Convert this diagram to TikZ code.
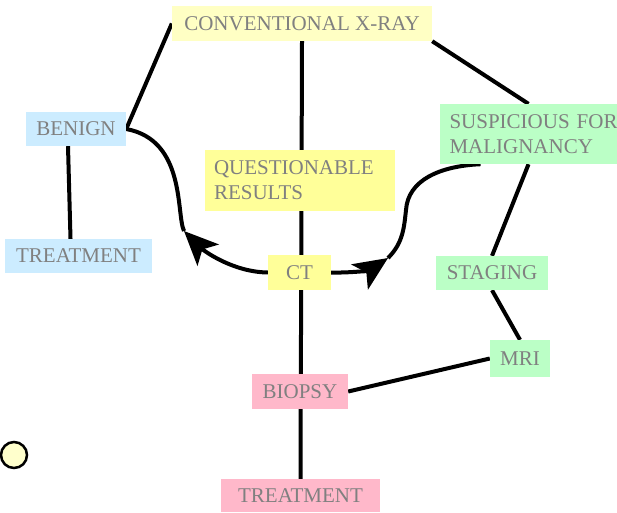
\documentclass[tikz,border=0pt]{standalone}
\usepackage{fontspec}
\setmainfont{Liberation Serif}
\usetikzlibrary{positioning,arrows.meta,backgrounds}
\definecolor{xraypale}{HTML}{FFFFC4}
\definecolor{ctyellow}{HTML}{FFFF99}
\definecolor{benblue}{HTML}{CCECFF}
\definecolor{malgreen}{HTML}{BBFFC6}
\definecolor{biopink}{HTML}{FFB8CA}
\definecolor{txtgray}{HTML}{808080}
\definecolor{dotpale}{HTML}{FFFFCC}
\begin{document}
\begin{tikzpicture}[x=1pt, y=-1pt,
  box/.style={rectangle, inner sep=0pt, text=txtgray, font=\fontsize{21}{25}\selectfont},
  link/.style={line width=4pt, black},
  headtip/.style={-{Stealth[length=34pt, width=30pt, inset=8pt]}}]
\useasboundingbox (0,0) rectangle (617,512);
\node[box, fill=xraypale, minimum width=260pt, minimum height=35pt] (xray) at (302,23.5) {CONVENTIONAL X-RAY};
\node[box, fill=benblue, minimum width=100pt, minimum height=34pt] (benign) at (76,129) {BENIGN};
\node[box, fill=benblue, minimum width=147pt, minimum height=34pt] (treatL) at (78.5,256) {TREATMENT};
\node[box, fill=malgreen, minimum width=177pt, minimum height=60pt, text width=158pt, align=left] (susp) at (528.5,134) {\mbox{SUSPICIOUS FOR}\\MALIGNANCY};
\node[box, fill=ctyellow, minimum width=190pt, minimum height=61pt, text width=172pt, align=left] (quest) at (300,180.5) {\mbox{QUESTIONABLE}\\RESULTS};
\node[box, fill=ctyellow, minimum width=63pt, minimum height=35pt] (ct) at (299.5,272.5) {CT};
\node[box, fill=malgreen, minimum width=112pt, minimum height=34pt] (staging) at (492,273) {STAGING};
\node[box, fill=malgreen, minimum width=60pt, minimum height=37pt] (mri) at (520,358.5) {MRI};
\node[box, fill=biopink, minimum width=96pt, minimum height=35pt] (biopsy) at (300,391.5) {BIOPSY};
\node[box, fill=biopink, minimum width=159pt, minimum height=33pt] (treatB) at (300.5,495.5) {TREATMENT};
\draw[line width=2.5pt, fill=dotpale] (14,455) circle (13pt);
\coordinate (tipL) at (184,231);
\coordinate (tipR) at (388,258);
\begin{scope}[on background layer]
  \draw[link] (xray.west) -- (benign.east);
  \draw[link] (xray.south east) -- (susp.north);
  \draw[link] (xray.south) -- (treatB.north);
  \draw[link] ([xshift=-8pt]benign.south) -- ([xshift=-8pt]treatL.north);
  \draw[link] (susp.south) -- (staging.north);
  \draw[link] (staging.south) -- (mri.north);
  \draw[link] (mri.west) -- (biopsy.east);
  \draw[link, headtip] (ct.west) .. controls (232,272) and (203,250) .. (tipL);
  \draw[link] (tipL) .. controls (176,214) and (186,140) .. (benign.east);
  \draw[link, headtip] (ct.east) .. controls (352,273) and (370,270) .. (tipR);
  \draw[link] (tipR) .. controls (403,243) and (404,228) .. (406,210) .. controls (408,180) and (440,166) .. ([xshift=-48pt]susp.south);
\end{scope}
\end{tikzpicture}
\end{document}
